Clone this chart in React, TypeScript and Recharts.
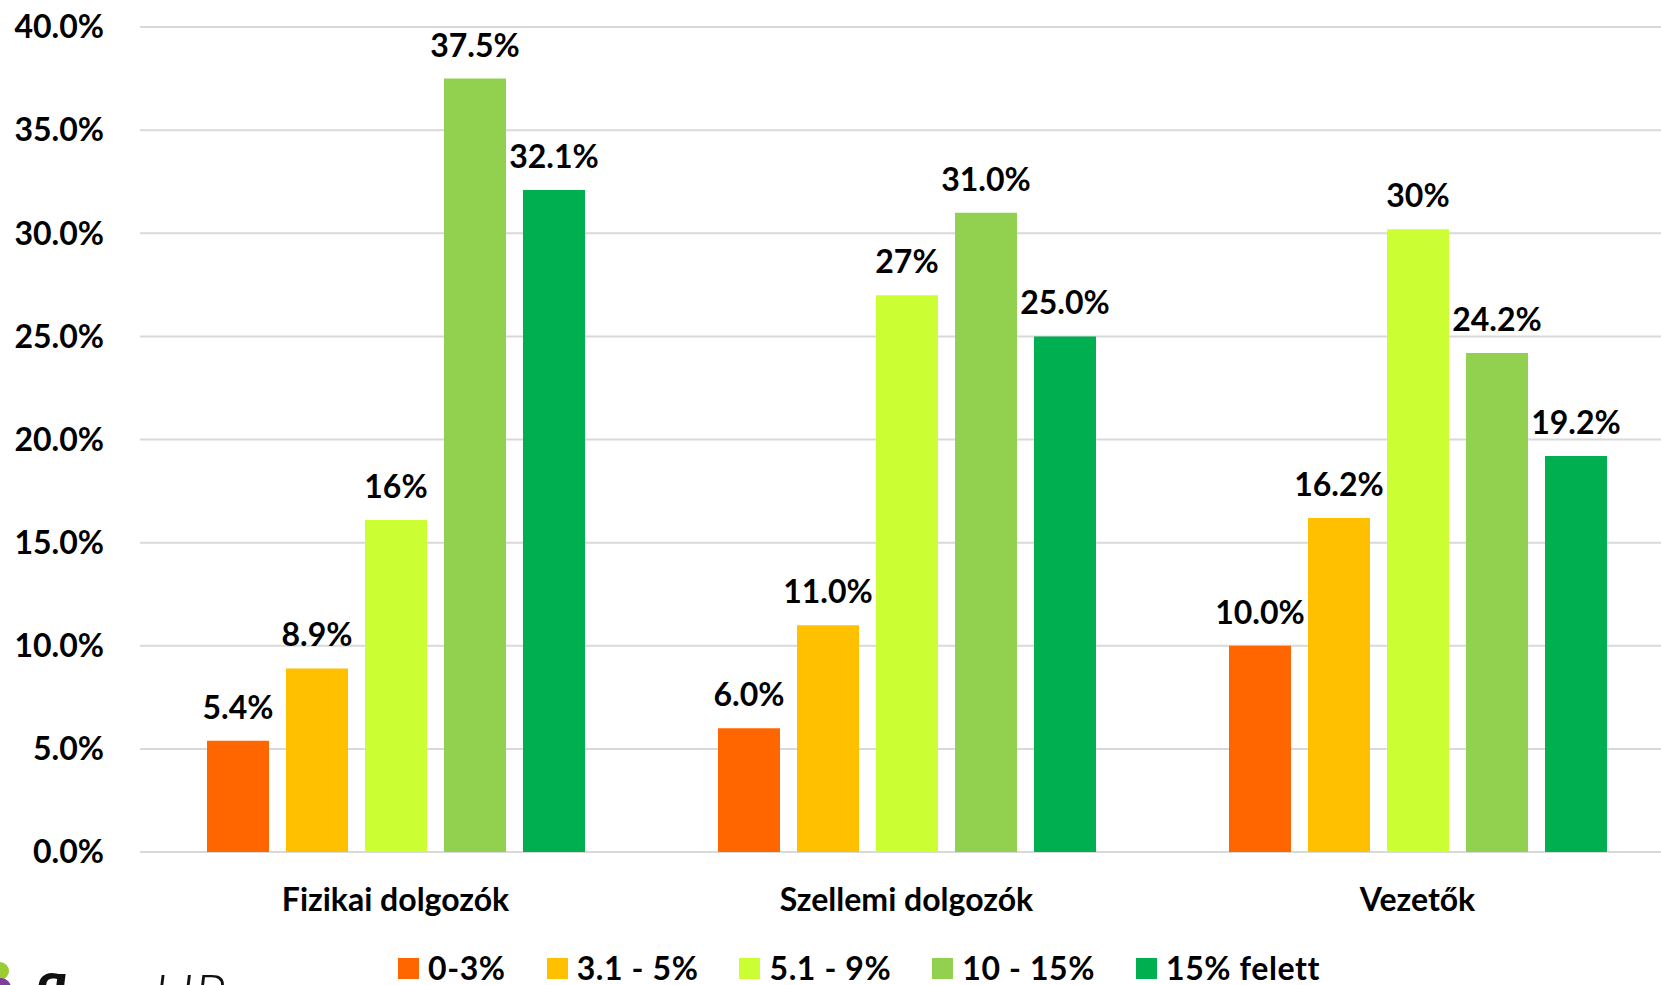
import React from "react";
import {
  BarChart,
  Bar,
  XAxis,
  YAxis,
  CartesianGrid,
  Legend,
  LabelList,
} from "recharts";

const categories = ["Fizikai dolgozók", "Szellemi dolgozók", "Vezetők"];
const seriesNames = ["0-3%", "3.1 - 5%", "5.1 - 9%", "10 - 15%", "15% felett"];
const seriesColors = ["#FF6600", "#FFC000", "#CCFF33", "#92D050", "#00B050"];

// one array per series, values in the order of the categories
const s0 = [5.4, 6.0, 10.0];
const s1 = [8.9, 11.0, 16.2];
const s2 = [16.1, 27.0, 30.2];
const s3 = [37.5, 31.0, 24.2];
const s4 = [32.1, 25.0, 19.2];

// data labels as printed on the chart
const l0 = ["5.4%", "6.0%", "10.0%"];
const l1 = ["8.9%", "11.0%", "16.2%"];
const l2 = ["16%", "27%", "30%"];
const l3 = ["37.5%", "31.0%", "24.2%"];
const l4 = ["32.1%", "25.0%", "19.2%"];

const yTicks = [0, 5, 10, 15, 20, 25, 30, 35, 40];

const values = [s0, s1, s2, s3, s4];
const labels = [l0, l1, l2, l3, l4];

const data = categories.map((name, i) => {
  const row: Record<string, string | number> = { name };
  values.forEach((s, k) => {
    row["s" + k] = s[i];
    row["l" + k] = labels[k][i];
  });
  return row;
});

const FONT = "Lato, 'Open Sans', sans-serif";
const textStyle = { fontFamily: FONT, fontWeight: 700, fontSize: 32, fill: "#000" };

// legend drawn in series order (recharts would sort it by name)
function LegendBox() {
  return (
    <div
      style={{
        display: "flex",
        alignItems: "center",
        height: 34,
        fontFamily: FONT,
        fontWeight: 700,
        fontSize: 32,
        letterSpacing: 0.6,
        color: "#000",
        whiteSpace: "nowrap",
      }}
    >
      {seriesNames.map((n, i) => (
        <div key={n} style={{ display: "flex", alignItems: "center", marginRight: 41 }}>
          <span
            style={{
              width: 21,
              height: 21,
              background: seriesColors[i],
              marginRight: 9,
              display: "inline-block",
            }}
          />
          <span style={{ lineHeight: "34px" }}>{n}</span>
        </div>
      ))}
    </div>
  );
}

export default function App() {
  return (
    <div
      style={{
        position: "absolute",
        left: 0,
        top: 0,
        width: 1661,
        height: 985,
        overflow: "hidden",
        background: "#fff",
      }}
    >
      <BarChart
        width={1673}
        height={985}
        data={data}
        margin={{ top: 27, right: 0, left: 0, bottom: 0 }}
        barSize={62}
        barGap={17}
      >
        <CartesianGrid vertical={false} stroke="#d9d9d9" strokeWidth={2} />
        <XAxis
          dataKey="name"
          axisLine={false}
          tickLine={false}
          tickSize={0}
          tickMargin={36}
          height={99}
          tick={textStyle}
          interval={0}
        />
        <YAxis
          width={140}
          domain={[0, 40]}
          ticks={yTicks}
          axisLine={false}
          tickLine={false}
          tickSize={0}
          tickMargin={36}
          tick={textStyle}
          tickFormatter={(v: number) => v.toFixed(1) + "%"}
        />
        <Legend
          verticalAlign="bottom"
          content={<LegendBox />}
          wrapperStyle={{ left: 398, width: 1200 }}
        />
        {seriesNames.map((n, k) => (
          <Bar
            key={n}
            dataKey={"s" + k}
            name={n}
            fill={seriesColors[k]}
            isAnimationActive={false}
          >
            <LabelList dataKey={"l" + k} position="top" offset={22} style={textStyle} />
          </Bar>
        ))}
      </BarChart>
      <div
        style={{
          position: "absolute",
          left: -9,
          top: 962,
          width: 18,
          height: 18,
          borderRadius: 9,
          background: "#9ACD32",
        }}
      />
      <div
        style={{
          position: "absolute",
          left: -9,
          top: 978,
          width: 20,
          height: 20,
          borderRadius: 10,
          background: "#7B3FA0",
        }}
      />
      <div
        style={{
          position: "absolute",
          left: 32,
          top: 965,
          fontFamily: FONT,
          fontSize: 58,
          fontStyle: "italic",
          lineHeight: "58px",
          color: "#111",
          whiteSpace: "nowrap",
        }}
      >
        <span style={{ fontWeight: 900 }}>flex</span>
        <span style={{ fontWeight: 300, marginLeft: 30 }}>HR</span>
      </div>
    </div>
  );
}
